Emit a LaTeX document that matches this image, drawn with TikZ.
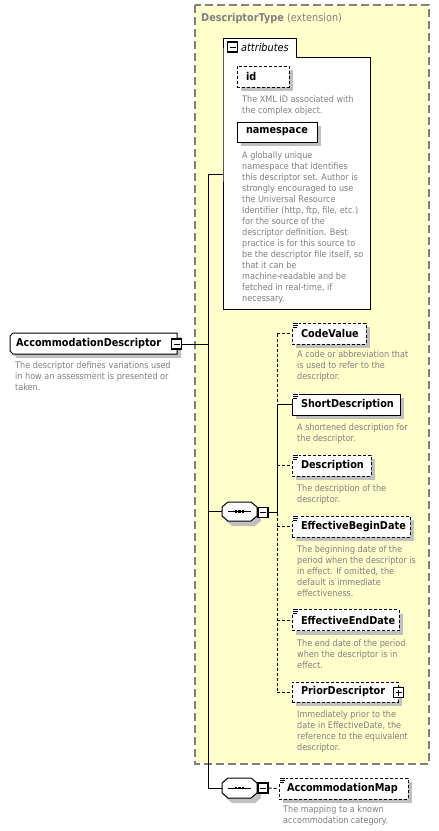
\documentclass[tikz,border=0pt]{standalone}
\usepackage{fontspec}
\setmainfont{DejaVu Sans}[FakeStretch=0.9]
\usetikzlibrary{shadows,calc}
\definecolor{ybg}{RGB}{255,255,204}
\definecolor{ygborder}{RGB}{128,128,128}
\definecolor{descgray}{RGB}{128,128,128}
\definecolor{shadowgray}{RGB}{192,192,192}
\pgfdeclarelayer{bg}
\pgfdeclarelayer{shad}
\pgfsetlayers{bg,shad,main}
\newcommand\octpath[4]{\path[#1] ([shift={(#3,0)}]#2.north west) -- ([shift={(-#3,0)}]#2.north east) -- ([shift={(0,#4)}]#2.north east) -- ([shift={(0,-#4)}]#2.south east) -- ([shift={(-#3,0)}]#2.south east) -- ([shift={(#3,0)}]#2.south west) -- ([shift={(0,-#4)}]#2.south west) -- ([shift={(0,#4)}]#2.north west) -- cycle;}
\newcommand\adpath[3]{\path[#1] ([shift={(#3,0)}]#2.north west) -- (#2.north east) -- (#2.south east) -- ([shift={(#3,0)}]#2.south west) -- ([shift={(0,-#3)}]#2.south west) -- ([shift={(0,#3)}]#2.north west) -- cycle;}
\newcommand\minusmark[1]{\draw[line width=1pt] ([shift={(-3,0)}]#1.center) -- ([shift={(3,0)}]#1.center);}
\newcommand\plusmark[1]{\draw[line width=1pt] ([shift={(-3,0)}]#1.center) -- ([shift={(3,0)}]#1.center) ([shift={(0,-3)}]#1.center) -- ([shift={(0,3)}]#1.center);}
\newcommand\simpleicon[1]{\fill[white] ([shift={(0.5,-1)}]#1.north west) rectangle ([shift={(7,5.5)}]#1.north west);
  \draw[line width=0.7pt] ([shift={(1.5,0.5)}]#1.north west) -- ++(5,0) ([shift={(1.5,2.5)}]#1.north west) -- ++(5,0) ([shift={(1.5,4.5)}]#1.north west) -- ++(4,0);}
\newcommand\seqsymbol[1]{\draw[line width=1pt] ([shift={(-12,0)}]#1.center) -- ([shift={(11,0)}]#1.center);
  \foreach \dx in {-3.5,0,3.5}{\fill ([shift={(\dx-1.3,-1.3)}]#1.center) rectangle ++(2.6,2.6);}}
\begin{document}
\begin{tikzpicture}[x=1pt,y=-1pt,
  conn/.style={line width=1pt, draw=black},
  optconn/.style={conn, dash pattern=on 3pt off 2pt},
  namefont/.style={font=\fontsize{10.8}{13}\selectfont\bfseries},
  elem/.style={draw=black, line width=1pt, fill=white, inner xsep=0pt, inner ysep=0pt, align=left, namefont,
    drop shadow={shadow xshift=4pt, shadow yshift=-4pt, fill=shadowgray, opacity=1}},
  optelem/.style={elem, dash pattern=on 3pt off 2pt},
  desc/.style={anchor=north west, inner sep=0pt, align=left, text=descgray, font=\fontsize{9}{11}\selectfont},
  pmbox/.style={draw=black, line width=1.2pt, fill=white, minimum size=10pt, inner sep=0pt},
  blank/.style={inner sep=0pt, outer sep=0pt}
]
\useasboundingbox (0,0) rectangle (439,831);
\begin{pgfonlayer}{bg}
  \fill[white] (0,0) rectangle (439,831);
  \draw[draw=ygborder, fill=ybg, line width=1.3pt, dash pattern=on 8pt off 4pt] (195,5) rectangle (429,764);
\end{pgfonlayer}

% header
\node[anchor=west, inner sep=0pt, text=descgray, font=\fontsize{10.8}{13}\selectfont] (hdr) at (201,19) {\textbf{DescriptorType} (extension)};

% attributes group
\node[blank, minimum width=147pt, minimum height=252pt] (attr) at (296.5,183) {};
\draw[conn, fill=white] (attr.north west) -- ++(0,-19) -- ++(73,0) |- (attr.north east) -- (attr.south east) -- (attr.south west) -- cycle;
\node[pmbox] (attrm) at (232.5,47) {};
\minusmark{attrm}
\node[anchor=west, inner sep=0pt, font=\fontsize{10.8}{13}\selectfont\itshape] (attrl) at (241,47) {attributes};

\node[optelem, text width=52pt, minimum height=21pt] (id) at (263,76.5) {\hspace*{9pt}id};
\node[desc] (idd) at (242,95) {The XML ID associated with\\the complex object.};
\node[elem, text width=80pt, minimum height=20pt] (ns) at (277,132) {\hspace*{9pt}namespace};
\node[desc] (nsd) at (242,151) {A globally unique\\namespace that identifies\\this descriptor set. Author is\\strongly encouraged to use\\the Universal Resource\\Identifier (http, ftp, file, etc.)\\for the source of the\\descriptor definition. Best\\practice is for this source to\\be the descriptor file itself, so\\that it can be\\machine-readable and be\\fetched in real-time, if\\necessary.};

% root element
\node[blank, text width=167pt, minimum height=21pt, align=left, namefont] (ad) at (93.5,343.5) {\hspace*{6pt}AccommodationDescriptor};
\begin{pgfonlayer}{shad}
  \adpath{fill=shadowgray, transform canvas={xshift=4pt, yshift=-4pt}}{ad}{3}
  \adpath{draw=black, line width=1pt, fill=white}{ad}{3}
\end{pgfonlayer}
\node[pmbox] (adm) at (176.5,344) {};
\minusmark{adm}
\node[desc] (add) at (15,361) {The descriptor defines variations used\\in how an assessment is presented or\\taken.};

% trunk
\coordinate (tA) at (208,174);
\coordinate (tB) at (208,788);
\draw[conn] (adm.east) -- (adm.east -| tA);
\draw[conn] (tA) -- (tA -| attr.west);
\draw[conn] (tA) -- (tB);

% sequence 1
\node[blank, minimum width=35pt, minimum height=19pt] (seq1) at (239.5,511.5) {};
\octpath{fill=shadowgray, transform canvas={xshift=4pt, yshift=-5pt}}{seq1}{6}{5}
\octpath{draw=black, line width=1pt, fill=white}{seq1}{6}{5}
\seqsymbol{seq1}
\node[pmbox] (s1m) at (263,512.5) {};
\minusmark{s1m}
\draw[conn] (seq1.west -| tA) -- (seq1.west);
\coordinate (vA) at (277,512.5);
\draw[conn] (s1m.east) -- (vA);

% children of sequence 1
\node[optelem, text width=74pt, minimum height=21pt] (cv) at (329,333.5) {\hspace*{9pt}CodeValue};
\simpleicon{cv}
\node[desc] (cvd) at (297,350.5) {A code or abbreviation that\\is used to refer to the\\descriptor.};

\node[elem, text width=108pt, minimum height=21pt] (sd) at (346,404.5) {\hspace*{9pt}ShortDescription};
\simpleicon{sd}
\node[desc] (sdd) at (297,423) {A shortened description for\\the descriptor.};

\node[optelem, text width=79pt, minimum height=21pt] (de) at (331.5,465.5) {\hspace*{9pt}Description};
\simpleicon{de}
\node[desc] (ded) at (297,484) {The description of the\\descriptor.};

\node[optelem, text width=118pt, minimum height=21pt] (ebd) at (351,526.5) {\hspace*{9pt}EffectiveBeginDate};
\simpleicon{ebd}
\node[desc] (ebdd) at (297,545) {The beginning date of the\\period when the descriptor is\\in effect. If omitted, the\\default is immediate\\effectiveness.};

\node[optelem, text width=107pt, minimum height=21pt] (eed) at (345.5,620) {\hspace*{9pt}EffectiveEndDate};
\simpleicon{eed}
\node[desc] (eedd) at (297,639) {The end date of the period\\when the descriptor is in\\effect.};

\node[optelem, text width=106pt, minimum height=20pt] (pd) at (345,692) {\hspace*{9pt}PriorDescriptor};
\node[pmbox] (pdp) at (398.5,692.5) {};
\plusmark{pdp}
\node[desc] (pdd) at (297,710) {Immediately prior to the\\date in EffectiveDate, the\\reference to the equivalent\\descriptor.};

% sequence 1 connectors
\draw[optconn] (cv.west -| vA) -- (sd.west -| vA);
\draw[conn] (sd.west -| vA) -- (vA);
\draw[optconn] (vA) -- (pd.west -| vA);
\draw[optconn] (cv.west -| vA) -- (cv.west);
\draw[conn] (sd.west -| vA) -- (sd.west);
\draw[optconn] (de.west -| vA) -- (de.west);
\draw[optconn] (ebd.west -| vA) -- (ebd.west);
\draw[optconn] (eed.west -| vA) -- (eed.west);
\draw[optconn] (pd.west -| vA) -- (pd.west);

% sequence 2
\node[blank, minimum width=35pt, minimum height=20pt] (seq2) at (239.5,788) {};
\octpath{fill=shadowgray, transform canvas={xshift=4pt, yshift=-5pt}}{seq2}{6}{5}
\octpath{draw=black, line width=1pt, fill=white}{seq2}{6}{5}
\seqsymbol{seq2}
\node[pmbox] (s2m) at (263,788) {};
\minusmark{s2m}
\draw[conn] (tB) -- (seq2.west);

\node[optelem, text width=129pt, minimum height=21pt] (am) at (343.5,788.5) {\hspace*{8pt}AccommodationMap};
\simpleicon{am}
\draw[optconn] (s2m.east) -- (am.west);
\node[desc] (amd) at (283,805) {The mapping to a known\\accommodation category.};
\end{tikzpicture}
\end{document}
